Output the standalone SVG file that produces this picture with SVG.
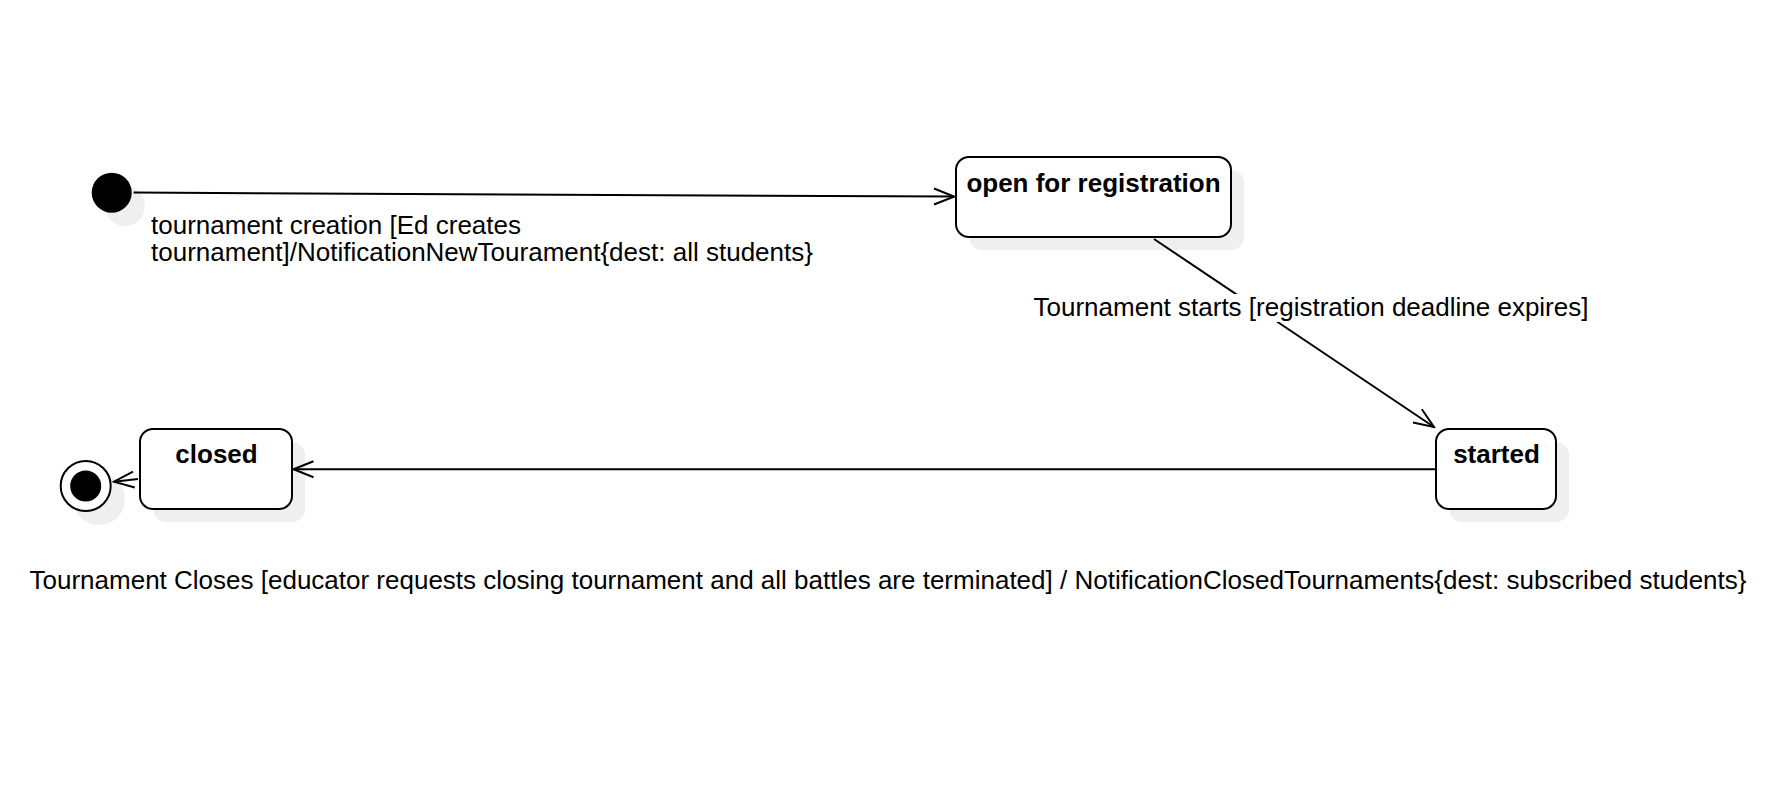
<svg xmlns="http://www.w3.org/2000/svg" width="1776" height="789" viewBox="0 0 1776 789">
<style>
.shadow{fill:#efefef;stroke:none}
.state{fill:#ffffff;stroke:#000000;stroke-width:2}
.name{font-family:"Liberation Sans",Arial,sans-serif;font-size:26px;font-weight:bold;text-anchor:middle;fill:#000}
.lbl{font-family:"Liberation Sans",Arial,sans-serif;font-size:26px;fill:#000}
.edge{fill:none;stroke:#000;stroke-width:2}
</style>
<defs>
<marker id="open" viewBox="-22 -10 24 20" refX="0" refY="0" markerWidth="24" markerHeight="20" markerUnits="userSpaceOnUse" orient="auto">
<path d="M-20,-8 L0,0 L-20,8" fill="none" stroke="#000" stroke-width="2"/>
</marker>
</defs>
<rect width="1776" height="789" fill="#ffffff"/>
<g id="initial">
<circle class="shadow" cx="125" cy="206" r="20"/>
<circle cx="111.7" cy="192.7" r="20" fill="#000"/>
</g>
<g id="open-for-registration">
<rect class="shadow" x="969" y="170" width="275" height="80" rx="13"/>
<rect class="state" x="956" y="157" width="275" height="80" rx="13"/>
<text class="name" x="1093.5" y="191.5">open for registration</text>
</g>
<g id="started">
<rect class="shadow" x="1449" y="442" width="120" height="80" rx="13"/>
<rect class="state" x="1436" y="429" width="120" height="80" rx="13"/>
<text class="name" x="1496.5" y="462.5">started</text>
</g>
<g id="closed">
<rect class="shadow" x="153" y="442" width="152" height="80" rx="13"/>
<rect class="state" x="140" y="429" width="152" height="80" rx="13"/>
<text class="name" x="216.5" y="462.5">closed</text>
</g>
<g id="final">
<circle class="shadow" cx="99" cy="499" r="26"/>
<circle class="state" cx="85.7" cy="486" r="25"/>
<circle cx="85.7" cy="486" r="15.5" fill="#000"/>
</g>
<g id="connectors">
<path class="edge" d="M133.6,192.6 L954,196.6" marker-end="url(#open)"/>
<path class="edge" d="M1154,239 L1434,427" marker-end="url(#open)"/>
<path class="edge" d="M1435,469.3 L293.5,469.3" marker-end="url(#open)"/>
<path class="edge" d="M138,479 L114,481.7" marker-end="url(#open)"/>
</g>
<g id="labels">
<text class="lbl" x="151" y="234.3">tournament creation [Ed creates</text>
<text class="lbl" x="151" y="260.7">tournament]/NotificationNewTourament{dest: all students}</text>
<rect x="1033" y="294" width="556" height="28" fill="#ffffff"/>
<text class="lbl" x="1311" y="315.5" text-anchor="middle">Tournament starts [registration deadline expires]</text>
<text class="lbl" x="888" y="589.3" text-anchor="middle">Tournament Closes [educator requests closing tournament and all battles are terminated] / NotificationClosedTournaments{dest: subscribed students}</text>
</g>
</svg>
